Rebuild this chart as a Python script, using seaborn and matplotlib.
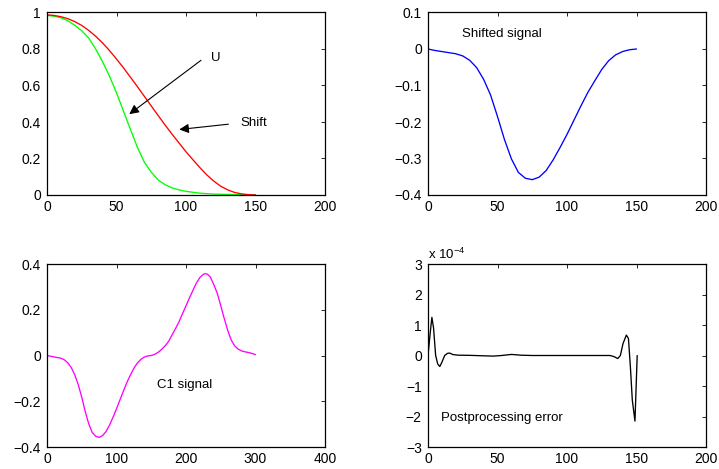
import matplotlib
matplotlib.use("Agg")
import matplotlib.pyplot as plt
import seaborn as sns
import numpy as np
import pandas as pd
from matplotlib.ticker import FuncFormatter, FixedLocator

# ---------------- data ----------------
# Top-left: U (green) and Shift (red)
u_x = [0, 5, 10, 15, 20, 25, 30, 35, 40, 45, 50, 55, 60, 65, 70, 75, 80, 85, 90,
       95, 100, 110, 120, 130, 140, 150]
u_y = [0.984, 0.980, 0.971, 0.955, 0.930, 0.900, 0.860, 0.800, 0.730, 0.650,
       0.560, 0.460, 0.360, 0.262, 0.180, 0.125, 0.082, 0.056, 0.039,
       0.028, 0.020, 0.010, 0.005, 0.003, 0.0015, 0.0]

shift_x = [0, 5, 10, 15, 20, 25, 30, 35, 40, 45, 50, 55, 60, 65, 70, 75, 80,
           85, 90, 95, 100, 105, 110, 115, 120, 125, 130, 135, 140, 145, 150]
shift_y = [0.987, 0.984, 0.977, 0.966, 0.950, 0.929, 0.902, 0.870, 0.833, 0.791,
           0.745, 0.697, 0.646, 0.594, 0.541, 0.488, 0.435, 0.383, 0.333, 0.285,
           0.237, 0.193, 0.150, 0.110, 0.076, 0.048, 0.028, 0.014, 0.006, 0.002,
           0.0]

# Top-right: shifted signal (blue)
sig_x = [0, 5, 10, 15, 20, 25, 30, 35, 40, 45, 50, 55, 60, 65, 70, 75, 80, 85, 90,
         95, 100, 105, 110, 115, 120, 125, 130, 135, 140, 145, 150]
sig_y = [0.0, -0.004, -0.007, -0.010, -0.013, -0.019, -0.031, -0.051, -0.083,
         -0.126, -0.185, -0.248, -0.301, -0.338, -0.354, -0.358, -0.351, -0.333,
         -0.304, -0.270, -0.234, -0.195, -0.156, -0.119, -0.087, -0.056, -0.032,
         -0.016, -0.007, -0.002, 0.0]

# Bottom-left: C1 signal (magenta)
c1_x = [0, 5, 10, 15, 20, 25, 30, 35, 40, 45, 50, 55, 60, 65, 70, 75, 80, 85, 90,
        95, 100, 105, 110, 115, 120, 125, 130, 135, 140, 145, 150,
        155, 160, 165, 170, 175, 180, 185, 190, 195, 200, 205, 210, 215, 220,
        225, 228, 231, 235, 240, 245, 250, 255, 260, 265, 270, 275, 280, 285,
        290, 295, 300]
c1_y = [0.0, -0.003, -0.006, -0.009, -0.012, -0.019, -0.032, -0.053, -0.085,
        -0.128, -0.182, -0.245, -0.298, -0.336, -0.353, -0.358, -0.350, -0.332,
        -0.304, -0.270, -0.233, -0.194, -0.155, -0.118, -0.085, -0.056, -0.033,
        -0.017, -0.007, -0.002, 0.0,
        0.005, 0.014, 0.027, 0.042, 0.062, 0.090, 0.118, 0.148, 0.183, 0.217,
        0.252, 0.285, 0.317, 0.341, 0.355, 0.358, 0.355, 0.343, 0.310, 0.272,
        0.218, 0.162, 0.110, 0.068, 0.042, 0.028, 0.020, 0.016, 0.013, 0.009,
        0.004]

# Bottom-right: postprocessing error (values in units of 1e-4)
err_x = [0, 1.5, 2.8, 4, 5.5, 7, 8.5, 10, 12, 14, 15.5, 18, 22, 30, 40, 47, 53,
         60, 67, 75, 90, 110, 125, 131, 134, 136.5, 138.4, 140.3, 142.7, 144.2,
         145.6, 147, 148.9, 150.5]
err_y_e4 = [0.0, 0.7, 1.25, 0.9, 0.0, -0.28, -0.36, -0.22, 0.0, 0.07, 0.08, 0.03,
            0.01, 0.005, -0.01, -0.02, 0.0, 0.035, 0.01, 0.0, 0.0, 0.0, 0.0, 0.0,
            -0.04, -0.10, 0.0, 0.39, 0.67, 0.56, -0.37, -1.47, -2.15, 0.0]

# ---------------- style ----------------
sns.set_style("white")
plt.rcParams['font.family'] = ['Liberation Sans', 'DejaVu Sans']
plt.rcParams['mathtext.fontset'] = 'custom'
plt.rcParams['mathtext.rm'] = 'Liberation Sans'
plt.rcParams['mathtext.it'] = 'Liberation Sans:italic'
plt.rcParams['mathtext.bf'] = 'Liberation Sans:bold'
plt.rcParams['axes.unicode_minus'] = True
plt.rcParams['text.color'] = 'black'
plt.rcParams['axes.labelcolor'] = 'black'
plt.rcParams['xtick.color'] = 'black'
plt.rcParams['ytick.color'] = 'black'

fig = plt.figure(figsize=(7.19, 4.69), dpi=100)
fig.patch.set_facecolor('white')

W, H = 719.0, 469.0
def ax_at(left, top, right, bottom):
    return fig.add_axes([left / W, 1 - bottom / H, (right - left) / W, (bottom - top) / H])

ax1 = ax_at(47, 12.5, 325, 195)
ax2 = ax_at(428, 12.5, 706, 195)
ax3 = ax_at(47, 264, 325, 447)
ax4 = ax_at(428, 264, 706, 447)

def fmt(v, pos=None):
    s = '%g' % round(v, 6)
    if s == '-0':
        s = '0'
    return s.replace('-', '\u2212')

def style(ax, xt, yt):
    ax.set_xlim(xt[0], xt[-1])
    ax.set_ylim(yt[0], yt[-1])
    ax.xaxis.set_major_locator(FixedLocator(xt))
    ax.yaxis.set_major_locator(FixedLocator(yt))
    ax.xaxis.set_major_formatter(FuncFormatter(fmt))
    ax.yaxis.set_major_formatter(FuncFormatter(fmt))
    ax.tick_params(axis='both', direction='in', top=True, right=True,
                   length=3, width=0.6, color='black', labelsize=10,
                   labelcolor='black')
    ax.tick_params(axis='x', pad=3.5)
    ax.tick_params(axis='y', pad=4.5)
    for sp in ax.spines.values():
        sp.set_visible(True)
        sp.set_color('black')
        sp.set_linewidth(0.9)
    ax.set_xlabel('')
    ax.set_ylabel('')
    ax.set_facecolor('white')

lw = 0.95
sns.lineplot(x=u_x, y=u_y, ax=ax1, color=(0, 1, 0), linewidth=lw,
             estimator=None, sort=False)
sns.lineplot(x=shift_x, y=shift_y, ax=ax1, color=(1, 0, 0), linewidth=lw,
             estimator=None, sort=False)
style(ax1, [0, 50, 100, 150, 200], [0, 0.2, 0.4, 0.6, 0.8, 1])

arrow = dict(arrowstyle='-|>', color='black', lw=0.8, mutation_scale=14,
             shrinkA=0, shrinkB=0)
ax1.annotate('', xy=(59.2, 0.443), xytext=(110.8, 0.738), arrowprops=arrow)
ax1.text(117.8, 0.749, 'U', fontsize=9.5, ha='left', va='center')
ax1.annotate('', xy=(95.2, 0.359), xytext=(130.5, 0.388), arrowprops=arrow)
ax1.text(139.3, 0.392, 'Shift', fontsize=9.5, ha='left', va='center')

sns.lineplot(x=sig_x, y=sig_y, ax=ax2, color=(0, 0, 1), linewidth=lw,
             estimator=None, sort=False)
style(ax2, [0, 50, 100, 150, 200], [-0.4, -0.3, -0.2, -0.1, 0, 0.1])
ax2.text(24.6, 0.042, 'Shifted signal', fontsize=9.5, ha='left', va='center')

sns.lineplot(x=c1_x, y=c1_y, ax=ax3, color=(1, 0, 1), linewidth=lw,
             estimator=None, sort=False)
style(ax3, [0, 100, 200, 300, 400], [-0.4, -0.2, 0, 0.2, 0.4])
ax3.text(158, -0.13, 'C1 signal', fontsize=9.5, ha='left', va='center')

err_y = [v * 1e-4 for v in err_y_e4]
sns.lineplot(x=err_x, y=err_y, ax=ax4, color='black', linewidth=lw,
             estimator=None, sort=False)
style(ax4, [0, 50, 100, 150, 200], [k * 1e-4 for k in range(-3, 4)])
ax4.yaxis.set_major_formatter(FuncFormatter(lambda v, p: fmt(v / 1e-4)))
ax4.text(9.6, -2.05e-4, 'Postprocessing error', fontsize=9.5, ha='left', va='center')
ax4.text(0.0, 1.012, r'x 10$^{-4}$', transform=ax4.transAxes, fontsize=9.5,
         ha='left', va='bottom')

fig.savefig('out.png', dpi=100, facecolor='white')
